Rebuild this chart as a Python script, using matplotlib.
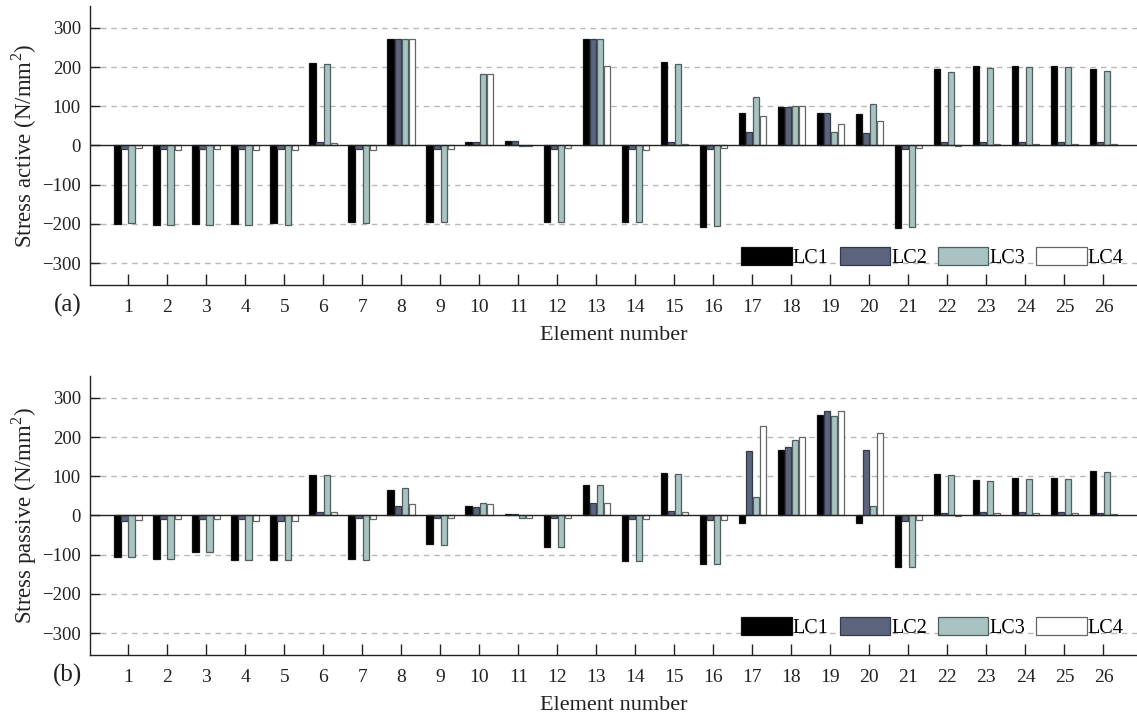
import matplotlib
matplotlib.use('Agg')
import matplotlib.pyplot as plt
import numpy as np

plt.rcParams['font.family'] = ['Liberation Serif', 'DejaVu Serif']
plt.rcParams['mathtext.fontset'] = 'custom'
plt.rcParams['mathtext.rm'] = 'Liberation Serif'

# element numbers and load cases
elements = list(range(1, 27))
cases = ['LC1', 'LC2', 'LC3', 'LC4']

# stress active (N/mm2)
active_lc1 = [-200, -203, -201, -201, -199, 211, -194, 273, -194, 10, 12, -196, 273,
              -195, 212, -209, 83, 99, 84, 81, -211, 196, 203, 203, 202, 195]
active_lc2 = [-8, -9, -8, -8, -8, 8, -8, 273, -8, 10, 12, -8, 273,
              -9, 8, -8, 34, 99, 84, 31, -8, 8, 8, 8, 8, 8]
active_lc3 = [-198, -203, -203, -203, -202, 208, -197, 273, -195, 182, -2, -194, 273,
              -196, 208, -206, 123, 101, 34, 106, -207, 188, 199, 200, 200, 191]
active_lc4 = [-6, -11, -10, -11, -11, 6, -11, 273, -8, 182, -2, -7, 202,
              -12, 5, -7, 75, 101, 55, 63, -7, -1, 5, 5, 5, 4]

# stress passive (N/mm2)
passive_lc1 = [-106, -110, -94, -113, -113, 103, -112, 65, -74, 25, 3, -80, 78,
               -117, 108, -125, -19, 168, 257, -19, -131, 107, 90, 95, 95, 113]
passive_lc2 = [-13, -10, -9, -10, -13, 10, -7, 25, -7, 22, 3, -7, 31,
               -8, 11, -12, 165, 175, 267, 167, -13, 6, 8, 8, 8, 6]
passive_lc3 = [-106, -110, -94, -114, -114, 103, -113, 70, -76, 32, -6, -80, 78,
               -117, 107, -125, 47, 193, 254, 25, -131, 102, 88, 93, 94, 110]
passive_lc4 = [-12, -10, -10, -13, -15, 10, -9, 29, -7, 30, -6, -7, 31,
               -9, 9, -12, 228, 199, 266, 211, -11, -1, 6, 6, 6, 3]

yticks = [-300, -200, -100, 0, 100, 200, 300]

fills = ['#000000', '#5c637c', '#a8c3c1', '#ffffff']
edges = ['#111111', '#333a4a', '#4f5f5e', '#666666']
offsets = [-0.27, -0.09, 0.09, 0.27]


def panel(ax, series, ylabel, tag):
    x = np.array(elements)
    for k in range(4):
        ax.bar(x + offsets[k], series[k], width=0.17, color=fills[k],
               edgecolor=edges[k], linewidth=0.9, label=cases[k], zorder=3)
    ax.set_xlim(0.02, 26.86)
    ax.set_ylim(-356, 356)
    ax.set_xticks(elements)
    ax.set_yticks(yticks)
    for v in yticks:
        if v != 0:
            ax.axhline(v, color='#b8b8b8', lw=1.0, ls=(0, (4, 3.5)), zorder=1)
    ax.axhline(0, color='#222222', lw=1.0, zorder=4)
    ax.spines['top'].set_visible(False)
    ax.spines['right'].set_visible(False)
    for s in ['left', 'bottom']:
        ax.spines[s].set_color('#222222')
        ax.spines[s].set_linewidth(1.0)
    ax.tick_params(axis='x', direction='in', length=8, width=1, pad=10,
                   labelsize=14, colors='#222222')
    ax.tick_params(axis='y', direction='in', length=7, width=1, pad=6.5,
                   labelsize=13.5, colors='#222222')
    ax.set_ylabel(ylabel, fontsize=16.5, labelpad=2, color='#222222')
    ax.set_xlabel('Element number', fontsize=16, labelpad=7, color='#222222')
    ax.text(-0.0076, -0.072, tag, transform=ax.transAxes, fontsize=18,
            ha='right', va='center', color='#222222')
    ax.legend(loc='lower right', bbox_to_anchor=(0.987, 0.062), ncol=4,
              frameon=False, fontsize=14.5, handlelength=2.5, handleheight=1.0,
              handletextpad=0.05, columnspacing=0.55, borderpad=0,
              borderaxespad=0)


fig = plt.figure(figsize=(11.37, 7.13), dpi=100)
ax1 = fig.add_axes([0.0792, 0.6003, 0.9208, 0.3913])
ax2 = fig.add_axes([0.0792, 0.0814, 0.9208, 0.3913])

panel(ax1, [active_lc1, active_lc2, active_lc3, active_lc4],
      'Stress active (N/mm$^2$)', '(a)')
panel(ax2, [passive_lc1, passive_lc2, passive_lc3, passive_lc4],
      'Stress passive (N/mm$^2$)', '(b)')

fig.savefig('out.png', dpi=100)
